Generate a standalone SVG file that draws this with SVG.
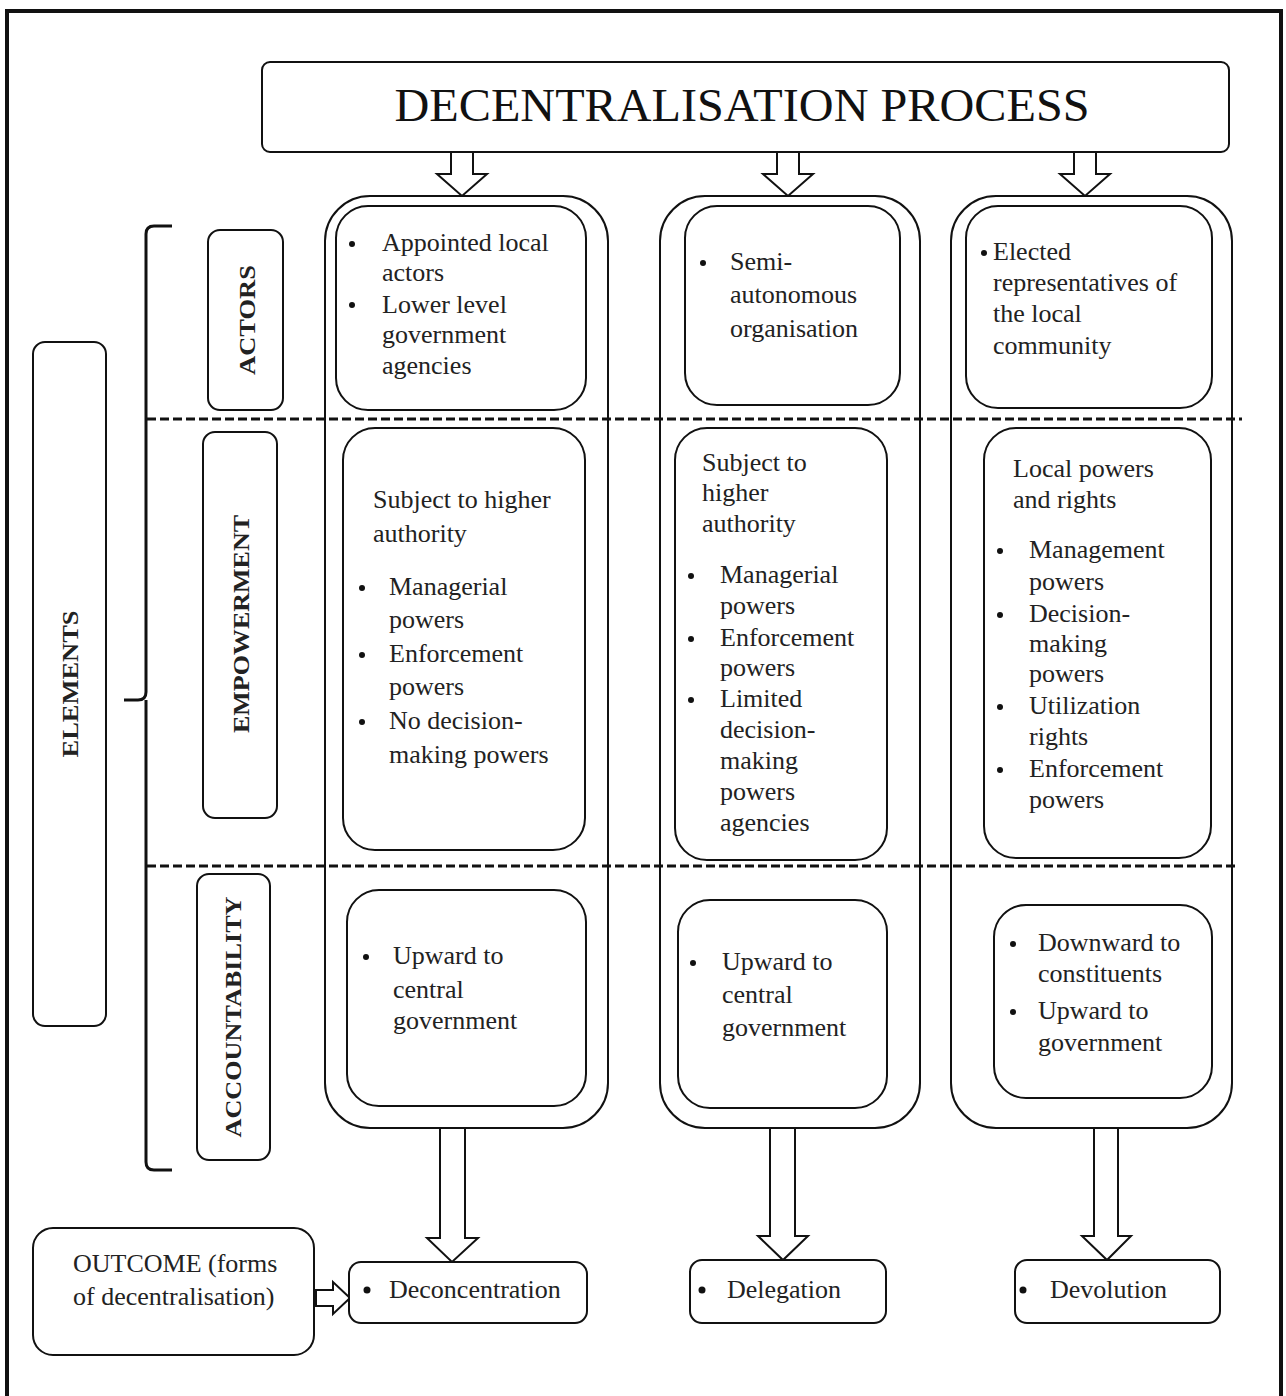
<svg xmlns="http://www.w3.org/2000/svg" width="1286" height="1396" viewBox="0 0 1286 1396">
<style>
.box{fill:#fff;stroke:#111;stroke-width:2}
.t{font-family:"Liberation Serif","Times New Roman",serif;font-size:26px;fill:#222}
.h{font-family:"Liberation Serif","Times New Roman",serif;font-size:46px;fill:#111}
.v{font-family:"Liberation Serif","Times New Roman",serif;font-size:24px;font-weight:bold;fill:#222}
.arr{fill:#fff;stroke:#111;stroke-width:2;stroke-linejoin:miter}
.dash{stroke:#111;stroke-width:3;stroke-dasharray:9 4;fill:none}
.b{fill:#111}
</style>
<rect x="0" y="0" width="1286" height="1396" fill="#fff"/>
<rect x="7" y="11" width="1274" height="1392" fill="none" stroke="#111" stroke-width="4"/>

<g id="title">
<rect class="box" x="262" y="62" width="967" height="90" rx="8"/>
<text class="h" x="742" y="121" text-anchor="middle" textLength="695" lengthAdjust="spacingAndGlyphs">DECENTRALISATION PROCESS</text>
</g>

<g id="connectors">
<path class="arr" d="M451,152 V174 H437 L462,196 L487,174 H473 V152 Z"/>
<path class="arr" d="M777,152 V174 H763 L788,196 L813,174 H799 V152 Z"/>
<path class="arr" d="M1074,152 V174 H1060 L1085,196 L1110,174 H1096 V152 Z"/>
<path class="arr" d="M440,1128 V1238 H427 L452,1262 L478,1238 H465 V1128 Z"/>
<path class="arr" d="M770,1128 V1236 H758 L783,1260 L808,1236 H795 V1128 Z"/>
<path class="arr" d="M1094,1128 V1236 H1082 L1107,1260 L1131,1236 H1118 V1128 Z"/>
<path class="arr" d="M316,1290 H333 V1282 L350,1298 L333,1314 V1306 H316 Z"/>
<path d="M172,226 H154 Q146,226 146,234 V692 Q146,700 138,700 H124 M146,700 Q146,708 146,716 V1162 Q146,1170 154,1170 H172" fill="none" stroke="#111" stroke-width="3"/>
</g>

<g id="col1">
<rect class="box" x="325" y="196" width="283" height="932" rx="45"/>
</g>
<g id="col2">
<rect class="box" x="660" y="196" width="260" height="932" rx="45"/>
</g>
<g id="col3">
<rect class="box" x="951" y="196" width="281" height="932" rx="45"/>
</g>

<g id="dividers">
<line class="dash" x1="147" y1="419" x2="1242" y2="419"/>
<line class="dash" x1="147" y1="866" x2="1238" y2="866"/>
</g>

<g id="elements">
<rect class="box" x="33" y="342" width="73" height="684" rx="12"/>
<text class="v" transform="translate(70,684) rotate(-90)" text-anchor="middle" dominant-baseline="central" textLength="147" lengthAdjust="spacingAndGlyphs">ELEMENTS</text>
</g>
<g id="label-actors">
<rect class="box" x="208" y="230" width="75" height="180" rx="12"/>
<text class="v" transform="translate(247,320) rotate(-90)" text-anchor="middle" dominant-baseline="central" textLength="110" lengthAdjust="spacingAndGlyphs">ACTORS</text>
</g>
<g id="label-empowerment">
<rect class="box" x="203" y="432" width="74" height="386" rx="12"/>
<text class="v" transform="translate(241,624) rotate(-90)" text-anchor="middle" dominant-baseline="central" textLength="218" lengthAdjust="spacingAndGlyphs">EMPOWERMENT</text>
</g>
<g id="label-accountability">
<rect class="box" x="197" y="874" width="73" height="286" rx="12"/>
<text class="v" transform="translate(233,1017) rotate(-90)" text-anchor="middle" dominant-baseline="central" textLength="241" lengthAdjust="spacingAndGlyphs">ACCOUNTABILITY</text>
</g>

<g id="c1-actors">
<rect class="box" x="336" y="206" width="250" height="204" rx="32"/>
<circle class="b" cx="352" cy="244" r="3"/>
<circle class="b" cx="352" cy="305" r="3"/>
<text class="t" x="382" y="251">Appointed local</text>
<text class="t" x="382" y="281">actors</text>
<text class="t" x="382" y="313">Lower level</text>
<text class="t" x="382" y="343">government</text>
<text class="t" x="382" y="374">agencies</text>
</g>
<g id="c2-actors">
<rect class="box" x="685" y="206" width="215" height="199" rx="32"/>
<circle class="b" cx="703" cy="263" r="3"/>
<text class="t" x="730" y="270">Semi-</text>
<text class="t" x="730" y="303">autonomous</text>
<text class="t" x="730" y="337">organisation</text>
</g>
<g id="c3-actors">
<rect class="box" x="966" y="206" width="246" height="202" rx="32"/>
<circle class="b" cx="984" cy="253" r="3"/>
<text class="t" x="993" y="260">Elected</text>
<text class="t" x="993" y="291">representatives of</text>
<text class="t" x="993" y="322">the local</text>
<text class="t" x="993" y="354">community</text>
</g>

<g id="c1-empowerment">
<rect class="box" x="343" y="428" width="242" height="422" rx="32"/>
<text class="t" x="373" y="508">Subject to higher</text>
<text class="t" x="373" y="542">authority</text>
<circle class="b" cx="362" cy="588" r="3"/>
<circle class="b" cx="362" cy="655" r="3"/>
<circle class="b" cx="362" cy="722" r="3"/>
<text class="t" x="389" y="595">Managerial</text>
<text class="t" x="389" y="628">powers</text>
<text class="t" x="389" y="662">Enforcement</text>
<text class="t" x="389" y="695">powers</text>
<text class="t" x="389" y="729">No decision-</text>
<text class="t" x="389" y="763">making powers</text>
</g>
<g id="c2-empowerment">
<rect class="box" x="675" y="428" width="212" height="432" rx="32"/>
<text class="t" x="702" y="471">Subject to</text>
<text class="t" x="702" y="501">higher</text>
<text class="t" x="702" y="532">authority</text>
<circle class="b" cx="691" cy="576" r="3"/>
<circle class="b" cx="691" cy="639" r="3"/>
<circle class="b" cx="691" cy="700" r="3"/>
<text class="t" x="720" y="583">Managerial</text>
<text class="t" x="720" y="614">powers</text>
<text class="t" x="720" y="646">Enforcement</text>
<text class="t" x="720" y="676">powers</text>
<text class="t" x="720" y="707">Limited</text>
<text class="t" x="720" y="738">decision-</text>
<text class="t" x="720" y="769">making</text>
<text class="t" x="720" y="800">powers</text>
<text class="t" x="720" y="831">agencies</text>
</g>
<g id="c3-empowerment">
<rect class="box" x="984" y="428" width="227" height="430" rx="32"/>
<text class="t" x="1013" y="477">Local powers</text>
<text class="t" x="1013" y="508">and rights</text>
<circle class="b" cx="1000" cy="551" r="3"/>
<circle class="b" cx="1000" cy="615" r="3"/>
<circle class="b" cx="1000" cy="707" r="3"/>
<circle class="b" cx="1000" cy="770" r="3"/>
<text class="t" x="1029" y="558">Management</text>
<text class="t" x="1029" y="590">powers</text>
<text class="t" x="1029" y="622">Decision-</text>
<text class="t" x="1029" y="652">making</text>
<text class="t" x="1029" y="682">powers</text>
<text class="t" x="1029" y="714">Utilization</text>
<text class="t" x="1029" y="745">rights</text>
<text class="t" x="1029" y="777">Enforcement</text>
<text class="t" x="1029" y="808">powers</text>
</g>

<g id="c1-accountability">
<rect class="box" x="347" y="890" width="239" height="216" rx="32"/>
<circle class="b" cx="366" cy="957" r="3"/>
<text class="t" x="393" y="964">Upward to</text>
<text class="t" x="393" y="998">central</text>
<text class="t" x="393" y="1029">government</text>
</g>
<g id="c2-accountability">
<rect class="box" x="678" y="900" width="209" height="208" rx="32"/>
<circle class="b" cx="693" cy="963" r="3"/>
<text class="t" x="722" y="970">Upward to</text>
<text class="t" x="722" y="1003">central</text>
<text class="t" x="722" y="1036">government</text>
</g>
<g id="c3-accountability">
<rect class="box" x="994" y="905" width="218" height="193" rx="32"/>
<circle class="b" cx="1013" cy="944" r="3"/>
<circle class="b" cx="1013" cy="1012" r="3"/>
<text class="t" x="1038" y="951">Downward to</text>
<text class="t" x="1038" y="982">constituents</text>
<text class="t" x="1038" y="1019">Upward to</text>
<text class="t" x="1038" y="1051">government</text>
</g>

<g id="outcome">
<rect class="box" x="33" y="1228" width="281" height="127" rx="20"/>
<text class="t" x="73" y="1272">OUTCOME (forms</text>
<text class="t" x="73" y="1305">of decentralisation)</text>
</g>
<g id="deconcentration">
<rect class="box" x="349" y="1262" width="238" height="61" rx="12"/>
<circle class="b" cx="367" cy="1290" r="3.5"/>
<text class="t" x="389" y="1298">Deconcentration</text>
</g>
<g id="delegation">
<rect class="box" x="690" y="1260" width="196" height="63" rx="12"/>
<circle class="b" cx="702" cy="1290" r="3.5"/>
<text class="t" x="727" y="1298">Delegation</text>
</g>
<g id="devolution">
<rect class="box" x="1015" y="1260" width="205" height="63" rx="12"/>
<circle class="b" cx="1023" cy="1290" r="3.5"/>
<text class="t" x="1050" y="1298">Devolution</text>
</g>
</svg>
